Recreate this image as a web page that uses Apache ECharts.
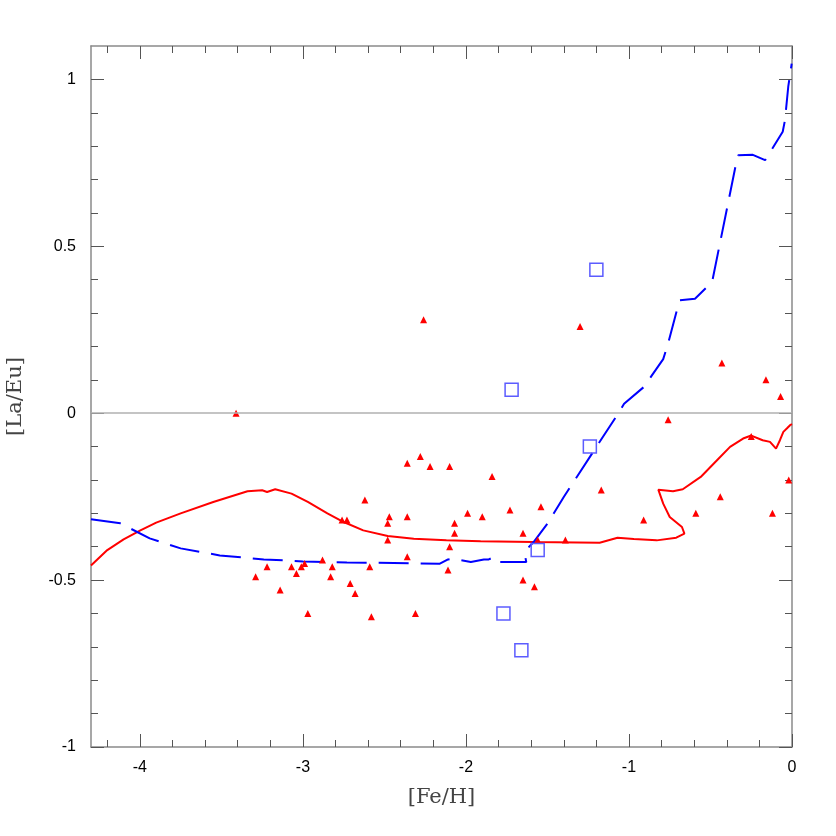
<!DOCTYPE html>
<html>
<head>
<meta charset="utf-8">
<script src="https://cdn.jsdelivr.net/npm/echarts@6/dist/echarts.min.js"></script>
<style>
  html, body { margin: 0; padding: 0; background: #fff; }
  #chart { width: 836px; height: 836px; }
</style>
</head>
<body>
<div id="chart"></div>
<script>
// 观测点 (三角)
const starsFe = [-3.41, -2.26, -1.30, -0.43, -0.16, -0.07, -0.76, -0.25, -0.02, -1.84, -1.17, -0.44,
  -1.99, -1.90, -1.73, -1.54, -0.91, -0.59, -0.12, -2.07, -2.07, -1.65, -1.56, -1.39, -1.65, -1.58,
  -2.28, -2.36, -2.22, -2.10, -2.62, -2.47, -2.36, -2.76, -2.73, -2.48, -2.48, -2.10, -2.36, -2.88,
  -3.22, -3.07, -3.01, -2.99, -2.82, -2.59, -2.11, -3.29, -3.04, -2.83, -3.14, -2.71, -2.68, -2.97,
  -2.58, -2.31];
const starsLaEu = [0.00, 0.28, 0.26, 0.15, 0.10, 0.05, -0.02, -0.07, -0.20, -0.19, -0.23, -0.25,
  -0.30, -0.31, -0.29, -0.28, -0.32, -0.30, -0.30, -0.33, -0.36, -0.36, -0.38, -0.38, -0.50, -0.52,
  -0.13, -0.15, -0.16, -0.16, -0.26, -0.31, -0.31, -0.32, -0.32, -0.33, -0.38, -0.40, -0.43, -0.44,
  -0.46, -0.46, -0.46, -0.45, -0.46, -0.46, -0.47, -0.49, -0.48, -0.49, -0.53, -0.51, -0.54, -0.60,
  -0.61, -0.60];

// 方块
const boxFe = [-1.20, -1.72, -1.24, -1.56, -1.77, -1.66];
const boxLaEu = [0.43, 0.07, -0.10, -0.41, -0.60, -0.71];

// 红色实线模型
const redFe = [-4.30, -4.20, -4.10, -4.00, -3.90, -3.75, -3.55, -3.34, -3.25, -3.22, -3.17, -3.07,
  -2.97, -2.85, -2.75, -2.63, -2.48, -2.32, -2.12, -1.91, -1.59, -1.18, -1.07, -0.97, -0.83, -0.71,
  -0.66, -0.675, -0.75, -0.79, -0.82, -0.81, -0.73, -0.67, -0.56, -0.46, -0.38, -0.30, -0.25, -0.18,
  -0.135, -0.098, -0.074, -0.053, -0.032, -0.012, 0];
const redLaEu = [-0.456, -0.41, -0.378, -0.352, -0.328, -0.30, -0.266, -0.234, -0.231, -0.236, -0.228, -0.241,
  -0.266, -0.30, -0.326, -0.351, -0.368, -0.376, -0.381, -0.384, -0.386, -0.388, -0.373, -0.377, -0.381, -0.373,
  -0.361, -0.341, -0.311, -0.271, -0.229, -0.226, -0.234, -0.228, -0.191, -0.141, -0.101, -0.076, -0.067, -0.081,
  -0.086, -0.106, -0.081, -0.056, -0.046, -0.036, -0.033];

// 蓝色虚线模型
const blueFe = [-4.30, -4.12, -3.94, -3.75, -3.51, -3.24, -3.00, -2.73, -2.16, -2.11, -2.08, -1.97,
  -1.89, -1.86, -1.825, -1.79, -1.63, -1.64, -1.62, -1.585, -1.50, -1.40, -1.32, -1.20, -1.065, -1.03,
  -0.91, -0.79, -0.76, -0.69, -0.595, -0.49, -0.343, -0.33, -0.24, -0.165, -0.057, -0.043, -0.023, -0.002];
const blueLaEu = [-0.318, -0.33, -0.375, -0.405, -0.426, -0.438, -0.444, -0.447, -0.451, -0.438, -0.436, -0.446,
  -0.438, -0.438, -0.43, -0.446, -0.446, -0.421, -0.404, -0.386, -0.331, -0.251, -0.191, -0.101, 0.0, 0.028,
  0.078, 0.162, 0.209, 0.338, 0.343, 0.393, 0.748, 0.773, 0.774, 0.758, 0.843, 0.878, 0.978, 1.047];

// 刻度
const xMajor = [-4, -3, -2, -1, 0];
const xMinor = [-4.2, -3.8, -3.6, -3.4, -3.2, -2.8, -2.6, -2.4, -2.2, -1.8, -1.6, -1.4, -1.2,
  -0.8, -0.6, -0.4, -0.2];
const yMajor = [-1, -0.5, 0, 0.5, 1];
const yMinor = [-0.9, -0.8, -0.7, -0.6, -0.4, -0.3, -0.2, -0.1, 0.1, 0.2, 0.3, 0.4, 0.6, 0.7, 0.8, 0.9];

const zip = (a, b) => a.map((v, i) => [v, b[i]]);

const chart = echarts.init(document.getElementById('chart'));

const frameColor = '#8a8a8a';
const tickColor = '#555';

// 生成坐标轴（主刻度 / 次刻度，上下左右各一套）
const makeAxis = (dim, position, ticks, len, showLine, showLabel) => {
  const isX = dim === 'x';
  return {
    type: 'value',
    position: position,
    min: isX ? -4.3 : -1,
    max: isX ? 0 : 1.1,
    splitLine: { show: false },
    axisLine: { show: showLine, onZero: false, lineStyle: { color: frameColor, width: 1.5 } },
    axisTick: {
      show: true,
      inside: true,
      length: len,
      customValues: ticks,
      lineStyle: { color: tickColor, width: 1 },
    },
    axisLabel: {
      show: showLabel,
      customValues: showLabel ? ticks : undefined,
      inside: false,
      margin: isX ? 13 : 15,
      color: '#000',
      fontFamily: 'Liberation Sans',
      fontSize: 16,
      formatter: (v) => String(v),
    },
  };
};

const xAxes = [
  makeAxis('x', 'bottom', xMajor, 13, true, true),
  makeAxis('x', 'bottom', xMinor, 7, false, false),
  makeAxis('x', 'top', xMajor, 13, true, false),
  makeAxis('x', 'top', xMinor, 7, false, false),
];
xAxes[0].name = '[Fe/H]';
xAxes[0].nameLocation = 'middle';
xAxes[0].nameGap = 40;
xAxes[0].nameTextStyle = { fontFamily: 'DejaVu Serif', fontSize: 21, color: '#444' };

const yAxes = [
  makeAxis('y', 'left', yMajor, 13, true, true),
  makeAxis('y', 'left', yMinor, 7, false, false),
  makeAxis('y', 'right', yMajor, 13, true, false),
  makeAxis('y', 'right', yMinor, 7, false, false),
];
yAxes[0].name = '[La/Eu]';
yAxes[0].nameLocation = 'middle';
yAxes[0].nameGap = 65;
yAxes[0].nameTextStyle = { fontFamily: 'DejaVu Serif', fontSize: 21, color: '#444' };

const option = {
  animation: false,
  backgroundColor: '#fff',
  grid: { left: 91, right: 44, top: 46, bottom: 89, outerBoundsMode: 'none', containLabel: false },
  xAxis: xAxes,
  yAxis: yAxes,
  series: [
    {
      // 零线
      type: 'line',
      data: [],
      markLine: {
        silent: true,
        symbol: 'none',
        label: { show: false },
        lineStyle: { color: '#b0b0b0', width: 1.5, type: 'solid' },
        data: [{ yAxis: 0 }],
      },
    },
    {
      name: 'red model',
      type: 'line',
      data: zip(redFe, redLaEu),
      showSymbol: false,
      symbol: 'none',
      lineStyle: { color: '#ff0000', width: 2 },
      z: 3,
    },
    {
      name: 'blue model',
      type: 'line',
      data: zip(blueFe, blueLaEu),
      showSymbol: false,
      symbol: 'none',
      lineStyle: { color: '#0000ff', width: 2, type: [30, 12] },
      z: 3,
    },
    {
      name: 'stars',
      type: 'scatter',
      data: zip(starsFe, starsLaEu),
      symbol: 'triangle',
      symbolSize: 7,
      itemStyle: { color: '#ff0000', opacity: 1 },
      z: 4,
    },
    {
      name: 'boxes',
      type: 'scatter',
      data: zip(boxFe, boxLaEu),
      symbol: 'rect',
      symbolSize: 13,
      itemStyle: { color: 'rgba(0,0,0,0)', borderColor: '#5c5cff', borderWidth: 1.5, opacity: 1 },
      z: 5,
    },
  ],
};

chart.setOption(option);
</script>
</body>
</html>
